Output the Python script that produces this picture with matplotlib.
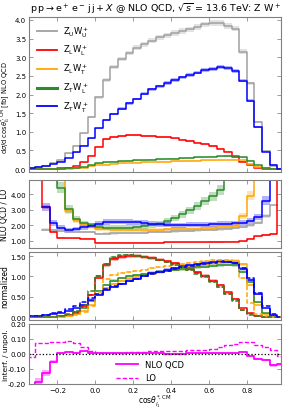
import numpy as np
import matplotlib.pyplot as plt
from matplotlib.lines import Line2D

# bin edges of cos(theta) histogram (width 0.04)
edges = np.round(np.arange(-0.36, 1.0001, 0.04), 2)

# --- top panel: NLO QCD distributions [fb]
uu_nlo = [0.03, 0.05, 0.09, 0.15, 0.25, 0.42, 0.63, 0.96, 1.39, 1.92, 2.39, 2.73, 2.95, 3.11, 3.26, 3.35, 3.44,
          3.53, 3.59, 3.65, 3.71, 3.75, 3.82, 3.88, 3.93, 3.91, 3.84, 3.77, 3.15, 2.30, 1.27, 0.48, 0.08, 0.0]
ll_nlo = [0.0, 0.0, 0.0, 0.01, 0.02, 0.04, 0.09, 0.18, 0.36, 0.60, 0.80, 0.87, 0.89, 0.90, 0.90, 0.89, 0.88,
          0.87, 0.85, 0.82, 0.79, 0.76, 0.71, 0.67, 0.62, 0.55, 0.46, 0.33, 0.20, 0.10, 0.03, 0.01, 0.0, 0.0]
lt_nlo = [0.0, 0.0, 0.0, 0.0, 0.01, 0.01, 0.02, 0.04, 0.07, 0.10, 0.12, 0.14, 0.15, 0.16, 0.17, 0.18, 0.19,
          0.20, 0.20, 0.21, 0.21, 0.22, 0.22, 0.23, 0.23, 0.24, 0.24, 0.25, 0.24, 0.14, 0.06, 0.02, 0.0, 0.0]
tl_nlo = [0.0, 0.0, 0.0, 0.0, 0.01, 0.02, 0.03, 0.06, 0.10, 0.15, 0.18, 0.20, 0.21, 0.22, 0.23, 0.24, 0.25,
          0.26, 0.27, 0.28, 0.29, 0.30, 0.31, 0.32, 0.33, 0.34, 0.35, 0.35, 0.31, 0.22, 0.10, 0.03, 0.01, 0.0]
tt_nlo = [0.04, 0.06, 0.09, 0.13, 0.20, 0.30, 0.45, 0.62, 0.82, 1.09, 1.31, 1.47, 1.62, 1.76, 1.88, 2.02, 2.14,
          2.22, 2.31, 2.39, 2.46, 2.52, 2.59, 2.65, 2.68, 2.73, 2.70, 2.64, 2.37, 1.83, 1.12, 0.46, 0.12, 0.0]

# --- ratio NLO QCD / LO (values above the frame leave the panel)
nan = np.nan
uu_k = [nan, nan, 1.70, 1.66, 1.62, 1.58, 1.56, 1.55, 1.55, 1.45, 1.46, 1.47, 1.48, 1.49, 1.50, 1.52, 1.54,
        1.56, 1.58, 1.60, 1.62, 1.64, 1.66, 1.68, 1.70, 1.73, 1.77, 1.82, 1.88, 1.98, 2.15, 2.60, 3.30, nan]
ll_k = [nan, 8.0, 3.15, 1.55, 1.16, 1.15, 1.15, 1.14, 1.14, 0.86, 0.86, 0.86, 0.87, 0.87, 0.87, 0.88, 0.88,
        0.88, 0.89, 0.89, 0.90, 0.90, 0.91, 0.91, 0.92, 0.92, 0.93, 0.94, 0.95, 1.13, 1.27, 1.38, 1.45, 8.0]
lt_k = [nan, nan, nan, nan, 8.0, 2.90, 2.30, 2.00, 1.85, 1.75, 1.72, 1.70, 1.70, 1.70, 1.70, 1.70, 1.70,
        1.71, 1.72, 1.73, 1.74, 1.76, 1.78, 1.80, 1.83, 1.86, 1.89, 1.95, 2.60, 3.90, 8.0, nan, nan, nan]
tl_k = [nan, nan, nan, 8.0, 4.40, 3.03, 2.39, 2.11, 1.98, 1.85, 1.83, 1.83, 1.83, 1.84, 1.87, 1.92, 2.00,
        2.10, 2.25, 2.45, 2.70, 2.95, 3.25, 3.55, 3.85, 4.25, 8.0, nan, nan, nan, nan, nan, nan, nan]
tt_k = [nan, nan, 3.15, 2.13, 1.84, 1.71, 1.75, 1.85, 1.95, 2.10, 2.20, 2.22, 2.22, 2.20, 2.17, 2.14, 2.10,
        2.06, 2.02, 2.00, 2.00, 2.01, 2.02, 2.04, 2.06, 2.08, 2.10, 2.12, 2.14, 2.25, 2.52, 3.57, 8.0, nan]

# --- normalized distributions, NLO (solid) and LO (dashed)
ll_norm = [0.0, 0.0, 0.0, 0.01, 0.03, 0.06, 0.13, 0.27, 0.55, 0.97, 1.28, 1.42, 1.48, 1.50, 1.49, 1.47, 1.45,
           1.41, 1.37, 1.32, 1.26, 1.19, 1.11, 1.02, 0.90, 0.78, 0.61, 0.45, 0.22, 0.09, 0.03, 0.01, 0.0, 0.0]
lt_norm = [0.0, 0.0, 0.0, 0.0, 0.01, 0.03, 0.07, 0.15, 0.30, 0.55, 0.72, 0.82, 0.88, 0.93, 0.98, 1.02, 1.06,
           1.10, 1.14, 1.17, 1.20, 1.23, 1.26, 1.29, 1.32, 1.35, 1.37, 1.38, 1.30, 0.80, 0.30, 0.08, 0.01, 0.0]
tl_norm = [0.0, 0.0, 0.0, 0.01, 0.03, 0.06, 0.11, 0.22, 0.40, 0.65, 0.80, 0.90, 0.96, 1.00, 1.03, 1.06, 1.09,
           1.12, 1.14, 1.16, 1.18, 1.20, 1.22, 1.24, 1.26, 1.28, 1.29, 1.28, 1.12, 0.86, 0.37, 0.09, 0.02, 0.0]
tt_norm = [0.02, 0.03, 0.05, 0.07, 0.10, 0.15, 0.23, 0.31, 0.41, 0.55, 0.66, 0.74, 0.81, 0.88, 0.94, 1.02, 1.08,
           1.12, 1.16, 1.20, 1.24, 1.27, 1.30, 1.33, 1.35, 1.37, 1.36, 1.33, 1.19, 0.92, 0.56, 0.23, 0.06, 0.0]
ll_norm_lo = [0.0, 0.0, 0.0, 0.01, 0.02, 0.05, 0.12, 0.26, 0.55, 1.02, 1.30, 1.45, 1.50, 1.52, 1.51, 1.48, 1.45,
              1.41, 1.36, 1.30, 1.24, 1.17, 1.09, 1.00, 0.88, 0.75, 0.58, 0.42, 0.18, 0.07, 0.02, 0.01, 0.0, 0.0]
lt_norm_lo = [0.0, 0.0, 0.0, 0.0, 0.01, 0.02, 0.05, 0.12, 0.28, 0.62, 0.94, 1.03, 1.08, 1.11, 1.14, 1.17, 1.20,
              1.23, 1.26, 1.28, 1.31, 1.33, 1.36, 1.38, 1.40, 1.41, 1.41, 1.38, 0.96, 0.35, 0.08, 0.02, 0.0, 0.0]
tl_norm_lo = [0.0, 0.0, 0.0, 0.01, 0.03, 0.07, 0.15, 0.30, 0.64, 1.00, 1.30, 1.47, 1.52, 1.53, 1.51, 1.48, 1.45,
              1.40, 1.35, 1.29, 1.22, 1.15, 1.07, 0.98, 0.86, 0.73, 0.57, 0.40, 0.18, 0.06, 0.02, 0.01, 0.0, 0.0]
tt_norm_lo = [0.02, 0.04, 0.06, 0.09, 0.13, 0.19, 0.27, 0.36, 0.46, 0.58, 0.68, 0.76, 0.82, 0.88, 0.94, 1.00, 1.05,
              1.10, 1.14, 1.18, 1.22, 1.25, 1.28, 1.31, 1.33, 1.35, 1.35, 1.32, 1.20, 0.95, 0.60, 0.27, 0.08, 0.01]

# --- interference / unpolarized
interf_nlo = [-0.30, -0.185, -0.127, -0.05, 0.008, 0.012, 0.010, 0.020, 0.008, 0.005, 0.004, 0.005, 0.006, 0.006,
              0.005, 0.005, 0.004, 0.004, 0.003, 0.003, 0.003, 0.004, 0.005, 0.006, 0.007, 0.006, 0.005, 0.008,
              0.012, -0.012, -0.030, -0.040, -0.075, -0.068]
interf_lo = [-0.020, 0.073, 0.075, 0.078, 0.083, 0.085, 0.075, 0.050, 0.020, 0.010, 0.008, 0.010, 0.010, 0.012,
             0.015, 0.016, 0.017, 0.018, 0.020, 0.020, 0.022, 0.024, 0.026, 0.030, 0.035, 0.045, 0.060, 0.070,
             0.082, 0.078, 0.060, 0.045, 0.025, -0.012]

labels = [r'$\mathrm{Z_U W_U^+}$', r'$\mathrm{Z_L W_L^+}$', r'$\mathrm{Z_L W_T^+}$',
          r'$\mathrm{Z_T W_L^+}$', r'$\mathrm{Z_T W_T^+}$']
colors = ['#a0a0a0', '#ff0000', '#ffa500', '#2a8c2a', '#0000ff']


def hstep(ax, vals, color, lw=1.1, ls='-', unc=0.0, alpha=0.3):
    v = np.asarray(vals, float)
    y = np.append(v, v[-1])
    if unc:
        ax.fill_between(edges, y * (1 - unc), y * (1 + unc), step='post', color=color, alpha=alpha, lw=0)
    ax.step(edges, y, where='post', color=color, lw=lw, ls=ls)


def style(ax, fmt):
    ax.set_xlim(-0.35, 0.98)
    ax.tick_params(direction='in', top=True, right=True, labelsize=5, length=3, width=0.5,
                   color='0.45', pad=2)
    ax.yaxis.set_major_formatter(plt.FormatStrFormatter(fmt))
    ax.set_xticks([-0.2, 0.0, 0.2, 0.4, 0.6, 0.8])
    for s in ax.spines.values():
        s.set_color('0.5')
        s.set_linewidth(0.8)
    ax.yaxis.set_label_coords(-0.078, 0.5)


W, H = 293, 410
fig = plt.figure(figsize=(W / 100, H / 100), dpi=100)


def axes_px(top, bottom, left=29, right=281):
    return fig.add_axes([left / W, 1 - bottom / H, (right - left) / W, (bottom - top) / H])


ax1 = axes_px(18, 173)
ax2 = axes_px(181, 249)
ax3 = axes_px(253, 321)
ax4 = axes_px(325, 385)

# top panel
for vals, c, u in zip([uu_nlo, ll_nlo, lt_nlo, tl_nlo, tt_nlo], colors, [0.02, 0.03, 0.04, 0.05, 0.02]):
    hstep(ax1, vals, c, unc=u)
ax1.set_ylim(-0.08, 4.08)
ax1.set_yticks([0.0, 0.5, 1.0, 1.5, 2.0, 2.5, 3.0, 3.5, 4.0])
style(ax1, '%.1f')
ax1.tick_params(labelbottom=False)
ax1.set_ylabel(r'd$\sigma$/d cos$\theta^{*,\mathrm{CM}}_{l_1}$ [fb] NLO QCD', fontsize=4.8)
ax1.yaxis.set_label_coords(-0.062, 0.42)
ax1.set_title(r'$\mathrm{p\,p} \rightarrow \mathrm{e^+\,e^-\,j\,j} + X$ @ NLO QCD, $\sqrt{s}$ = 13.6 TeV: Z W$^+$',
              fontsize=6.8, pad=4)
handles = [Line2D([], [], color=c, lw=lw) for c, lw in zip(colors, [1.3, 1.3, 1.3, 2.2, 1.3])]
ax1.legend(handles, labels, loc='upper left', frameon=False, fontsize=6, handlelength=2.4,
           labelspacing=0.55, borderaxespad=0.5)

# ratio panel
for vals, c, u in zip([uu_k, ll_k, lt_k, tl_k, tt_k], colors, [0.05, 0.04, 0.07, 0.08, 0.08]):
    hstep(ax2, vals, c, unc=u, alpha=0.3)
ax2.set_ylim(0.53, 4.9)
ax2.set_yticks([1.0, 2.0, 3.0, 4.0])
style(ax2, '%.2f')
ax2.tick_params(labelbottom=False)
ax2.set_ylabel('NLO QCD / LO', fontsize=5.5)

# normalized panel
for vals, c in zip([ll_norm, lt_norm, tl_norm, tt_norm], colors[1:]):
    hstep(ax3, vals, c, unc=0.03)
for vals, c in zip([ll_norm_lo, lt_norm_lo, tl_norm_lo, tt_norm_lo], colors[1:]):
    hstep(ax3, vals, c, ls=(0, (3, 1.5)), unc=0.02, alpha=0.2)
ax3.set_ylim(-0.07, 1.6)
ax3.set_yticks([0.0, 0.5, 1.0, 1.5])
style(ax3, '%.2f')
ax3.tick_params(labelbottom=False)
ax3.set_ylabel('normalized', fontsize=5.5)

# interference panel
hstep(ax4, interf_nlo, '#ff00ff', lw=1.3, unc=0.15, alpha=0.35)
hstep(ax4, interf_lo, '#ff00ff', lw=1.0, ls=(0, (3, 1.5)))
ax4.axhline(0, color='k', ls=':', lw=0.9)
ax4.set_ylim(-0.2, 0.2)
ax4.set_yticks([-0.2, -0.1, 0.0, 0.1, 0.2])
style(ax4, '%.2f')
ax4.set_xticklabels(['\u22120.2', '0.0', '0.2', '0.4', '0.6', '0.8'])
ax4.set_ylabel('interf. / unpol.', fontsize=5.3)
ax4.set_xlabel(r'cos$\theta^{*,\mathrm{CM}}_{l_1}$', fontsize=5.5, labelpad=0)
lh = [Line2D([], [], color='#ff00ff', lw=1.3), Line2D([], [], color='#ff00ff', lw=1.0, ls=(0, (3, 1.5)))]
ax4.legend(lh, ['NLO QCD', 'LO'], loc='lower center', bbox_to_anchor=(0.48, -0.1), frameon=False,
           fontsize=6, handlelength=2.6, labelspacing=0.55)

fig.savefig('out.png', dpi=100)
